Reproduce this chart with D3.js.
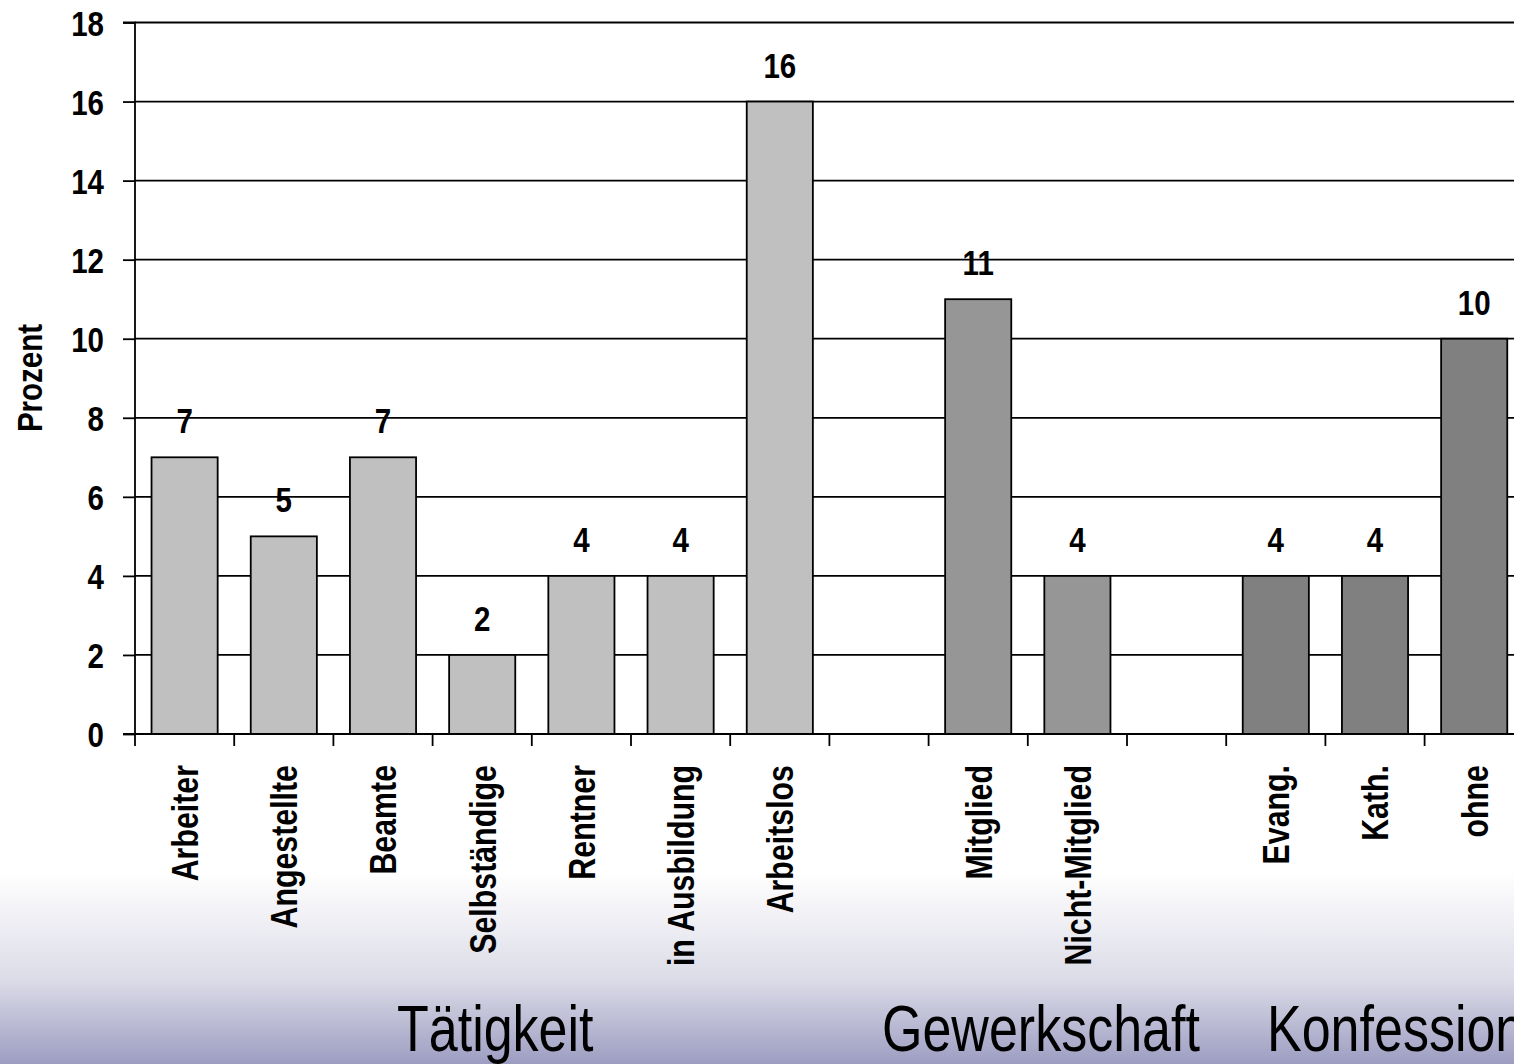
<!DOCTYPE html>
<html>
<head>
<meta charset="utf-8">
<script src="https://cdn.jsdelivr.net/npm/d3@7"></script>
<style>
  html, body { margin: 0; padding: 0; overflow: hidden; }
  svg { display: block; font-family: "Liberation Sans", Arial, sans-serif; }
</style>
</head>
<body>
<script>
// ---- data ----
const categories = ["Arbeiter", "Angestellte", "Beamte", "Selbständige", "Rentner", "in Ausbildung", "Arbeitslos", "", "Mitglied", "Nicht-Mitglied", " ", "Evang.", "Kath.", "ohne"];
const values = [7, 5, 7, 2, 4, 4, 16, null, 11, 4, null, 4, 4, 10];
const groupOf = ["T", "T", "T", "T", "T", "T", "T", null, "G", "G", null, "K", "K", "K"];
const groupNames = ["Tätigkeit", "Gewerkschaft", "Konfession"];
const groupKeys = ["T", "G", "K"];
const groupColors = ["#c0c0c0", "#969696", "#808080"];
const yTicks = [0, 2, 4, 6, 8, 10, 12, 14, 16, 18];
const yTitle = "Prozent";

// ---- layout ----
const W = 1514, H = 1064;
const left = 135, zeroY = 734, topY = 22.5;
const step = 99.2;
const SX = 0.82; // narrow font simulation
const LW = 1.8;

const svg = d3.select("body").append("svg").attr("width", W).attr("height", H);

const defs = svg.append("defs");
const grad = defs.append("linearGradient").attr("id", "bg").attr("x1", 0).attr("y1", 0).attr("x2", 0).attr("y2", 1);
grad.append("stop").attr("offset", "0%").attr("stop-color", "#ffffff");
grad.append("stop").attr("offset", "82%").attr("stop-color", "#ffffff");
grad.append("stop").attr("offset", "92%").attr("stop-color", "#dcdce8");
grad.append("stop").attr("offset", "100%").attr("stop-color", "#9d9dc2");
svg.append("rect").attr("width", W).attr("height", H).attr("fill", "url(#bg)");

const x = d3.scaleBand().domain(categories).range([left, left + step * categories.length])
  .paddingInner(1/3).paddingOuter(1/6);
const y = d3.scaleLinear().domain([0, 18]).range([zeroY, topY]);
const color = d3.scaleOrdinal().domain(groupKeys).range(groupColors);

// gridlines
svg.append("g").selectAll("line").data(yTicks.filter(d => d > 0)).join("line")
  .attr("x1", left).attr("x2", W).attr("y1", d => y(d)).attr("y2", d => y(d))
  .attr("stroke", "#000").attr("stroke-width", LW);

// bars
const data = categories.map((c, i) => ({ c, v: values[i], g: groupOf[i] })).filter(d => d.v != null);
svg.append("g").selectAll("rect").data(data).join("rect")
  .attr("x", d => x(d.c)).attr("width", x.bandwidth())
  .attr("y", d => y(d.v)).attr("height", d => y(0) - y(d.v))
  .attr("fill", d => color(d.g)).attr("stroke", "#000").attr("stroke-width", LW);

// value labels
svg.append("g").selectAll("g").data(data).join("g")
  .attr("transform", d => `translate(${x(d.c) + x.bandwidth() / 2},${y(d.v) - 24}) scale(${SX},1)`)
  .append("text").attr("text-anchor", "middle").attr("font-size", 36).attr("font-weight", "bold")
  .text(d => d.v);

// y axis
const yAxis = svg.append("g").attr("transform", `translate(${left},0)`)
  .call(d3.axisLeft(y).tickValues(yTicks).tickSize(12).tickPadding(19));
yAxis.select(".domain").attr("stroke-width", LW).attr("d", `M-12,${y(18)}H0V${y(0)}`);
yAxis.selectAll(".tick line").attr("stroke-width", LW);
yAxis.selectAll(".tick text")
  .attr("font-size", 36).attr("font-weight", "bold").attr("font-family", "Liberation Sans, Arial, sans-serif")
  .attr("fill", "#000").attr("dy", "0.36em")
  .attr("transform", `scale(${SX},1)`).attr("x", -31 / SX);

// x axis
const bounds = d3.range(categories.length + 1).map(i => left + i * x.step());
const xAxis = svg.append("g");
xAxis.append("line").attr("x1", left - 12).attr("x2", W).attr("y1", zeroY).attr("y2", zeroY)
  .attr("stroke", "#000").attr("stroke-width", LW);
xAxis.selectAll("line.tk").data(bounds).join("line").attr("class", "tk")
  .attr("x1", d => d).attr("x2", d => d).attr("y1", zeroY).attr("y2", zeroY + 12)
  .attr("stroke", "#000").attr("stroke-width", LW);

// category labels (rotated)
svg.append("g").selectAll("g").data(categories.filter(c => c.trim() !== "")).join("g")
  .attr("transform", d => `translate(${x(d) + x.bandwidth() / 2},765) rotate(-90) scale(${SX},1)`)
  .append("text").attr("text-anchor", "end").attr("dy", "0.36em")
  .attr("font-size", 37).attr("font-weight", "bold").text(d => d);

// y title
svg.append("g").attr("transform", `translate(29,378) rotate(-90) scale(${SX},1)`)
  .append("text").attr("text-anchor", "middle").attr("dy", "0.36em")
  .attr("font-size", 36).attr("font-weight", "bold").text(yTitle);

// group labels
const groupX = [397, 882, 1267];
svg.append("g").selectAll("g").data(groupNames).join("g")
  .attr("transform", (d, i) => `translate(${groupX[i]},1051) scale(0.8,1)`)
  .append("text").attr("font-size", 65).text(d => d);
</script>
</body>
</html>
